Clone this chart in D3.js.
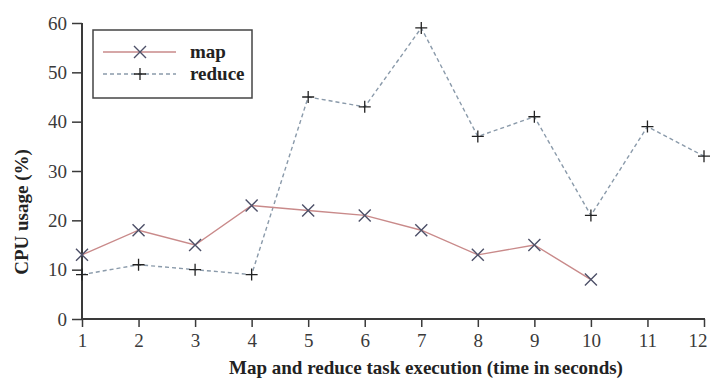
<!DOCTYPE html>
<html>
<head>
<meta charset="utf-8">
<script src="https://cdn.jsdelivr.net/npm/d3@7"></script>
<style>
  html, body { margin: 0; padding: 0; background: #fff; }
  svg { display: block; }
</style>
</head>
<body>
<svg id="chart" width="712" height="380"></svg>
<script>
// CPU usage of map and reduce tasks over time
const seconds = [1, 2, 3, 4, 5, 6, 7, 8, 9, 10, 11, 12];
const mapUsage = [13, 18, 15, 23, 22, 21, 18, 13, 15, 8];
const reduceUsage = [9, 11, 10, 9, 45, 43, 59, 37, 41, 21, 39, 33];
const yTicks = [0, 10, 20, 30, 40, 50, 60];
const seriesNames = ["map", "reduce"];

const svg = d3.select("#chart");
const margin = { left: 82, right: 8, top: 23, bottom: 61 };
const W = 712, H = 380;

const x = d3.scaleLinear().domain([1, 12]).range([margin.left, W - margin.right]);
const y = d3.scaleLinear().domain([0, 60]).range([H - margin.bottom, margin.top]);

const serif = "'Liberation Serif', 'DejaVu Serif', serif";
const axisColor = "#3a3a3a";

// axes
const xAxis = svg.append("g")
  .attr("transform", `translate(0,${y(0)})`)
  .call(d3.axisBottom(x).tickValues(seconds).tickFormat(d3.format("d")).tickSize(8).tickPadding(7).tickSizeOuter(0));
const yAxis = svg.append("g")
  .attr("transform", `translate(${x(1)},0)`)
  .call(d3.axisLeft(y).tickValues(yTicks).tickSize(10).tickPadding(5).tickSizeOuter(0));

[xAxis, yAxis].forEach(g => {
  g.select(".domain").attr("stroke", axisColor).attr("stroke-width", 2);
  g.selectAll(".tick line").attr("stroke", axisColor).attr("stroke-width", 1.5);
  g.selectAll(".tick text")
    .attr("fill", "#3a3a3a")
    .style("font-family", serif)
    .style("font-size", "19px");
});
// keep the last x label inside the canvas
xAxis.selectAll(".tick text").filter(d => d === 12).attr("text-anchor", "end").attr("dx", 3);
// extend domains slightly past the ends so axes meet cleanly
xAxis.select(".domain").attr("d", `M${x(1) - 1},0H${x(12) + 1}`);
yAxis.select(".domain").attr("d", `M0,${y(0) + 1}V${y(60)}`);

// axis titles
svg.append("text")
  .attr("x", 426)
  .attr("y", 374)
  .attr("text-anchor", "middle")
  .style("font-family", serif)
  .style("font-weight", "bold")
  .style("font-size", "19px")
  .attr("fill", "#222")
  .text("Map and reduce task execution (time in seconds)");

svg.append("text")
  .attr("transform", `translate(28,212) rotate(-90)`)
  .attr("text-anchor", "middle")
  .style("font-family", serif)
  .style("font-weight", "bold")
  .style("font-size", "19px")
  .attr("fill", "#222")
  .text("CPU usage (%)");

const line = d3.line().x(d => x(d[0])).y(d => y(d[1]));
const mapPts = mapUsage.map((v, i) => [seconds[i], v]);
const redPts = reduceUsage.map((v, i) => [seconds[i], v]);

const mapColor = "#c98a8a";
const reduceColor = "#8a9aaa";
const xMarkColor = "#4d5068";

function crossX(g, cx, cy, s) {
  g.append("path")
    .attr("d", `M${cx - s},${cy - s}L${cx + s},${cy + s}M${cx - s},${cy + s}L${cx + s},${cy - s}`)
    .attr("stroke", xMarkColor).attr("stroke-width", 1.4).attr("fill", "none");
}
function plus(g, cx, cy, s) {
  g.append("path")
    .attr("d", `M${cx - s},${cy}L${cx + s},${cy}M${cx},${cy - s}L${cx},${cy + s}`)
    .attr("stroke", "#222").attr("stroke-width", 1.3).attr("fill", "none");
}

// reduce series
svg.append("path").datum(redPts).attr("d", line)
  .attr("fill", "none").attr("stroke", reduceColor).attr("stroke-width", 1.4)
  .attr("stroke-dasharray", "4,3");
const redMarks = svg.append("g");
redPts.forEach(p => plus(redMarks, x(p[0]), y(p[1]), 6));

// map series
svg.append("path").datum(mapPts).attr("d", line)
  .attr("fill", "none").attr("stroke", mapColor).attr("stroke-width", 1.4);
const mapMarks = svg.append("g");
mapPts.forEach(p => crossX(mapMarks, x(p[0]), y(p[1]), 6));

// legend
const lg = svg.append("g");
lg.append("rect").attr("x", 93).attr("y", 30).attr("width", 159).attr("height", 68)
  .attr("fill", "#fff").attr("stroke", "#444").attr("stroke-width", 1.5);
const rows = [
  { name: seriesNames[0], yy: 52, color: mapColor, dash: null, mark: crossX },
  { name: seriesNames[1], yy: 74, color: reduceColor, dash: "4,3", mark: plus }
];
rows.forEach(r => {
  lg.append("line").attr("x1", 103).attr("x2", 176).attr("y1", r.yy).attr("y2", r.yy)
    .attr("stroke", r.color).attr("stroke-width", 1.4)
    .attr("stroke-dasharray", r.dash);
  r.mark(lg, 140, r.yy, 6);
  lg.append("text").attr("x", 190).attr("y", r.yy + 6)
    .style("font-family", serif).style("font-weight", "bold").style("font-size", "19px")
    .attr("fill", "#222").text(r.name);
});
</script>
</body>
</html>
